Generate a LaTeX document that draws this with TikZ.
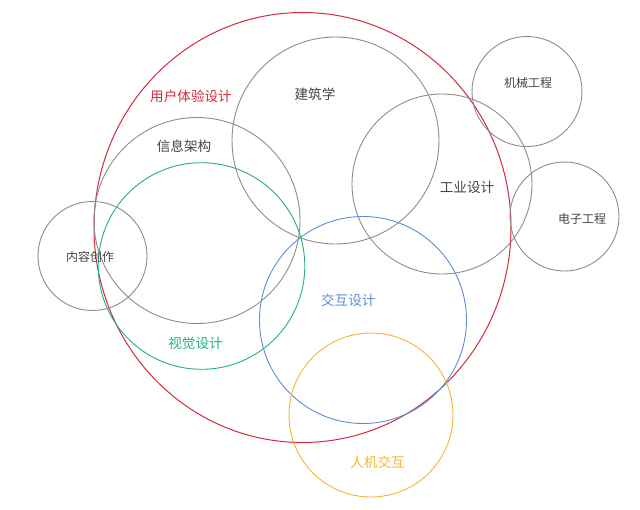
\documentclass[tikz,border=0pt]{standalone}
\usepackage{fontspec}
\setmainfont{Noto Sans CJK SC}
\definecolor{cred}{HTML}{D42A3C}
\definecolor{cgreen}{HTML}{22B07D}
\definecolor{cblue}{HTML}{5B8ED6}
\definecolor{corange}{HTML}{F5B530}
\definecolor{cgray}{HTML}{8C8C8C}
\definecolor{ctext}{HTML}{444444}
\tikzset{
  ring/.style={draw=cgray, line width=0.9pt},
  biglabel/.style={font=\fontsize{13.6}{14}\selectfont, inner sep=0pt},
  smalllabel/.style={font=\fontsize{12}{13}\selectfont, inner sep=0pt, text=ctext},
}
\begin{document}
\begin{tikzpicture}[x=1pt,y=-1pt]
\useasboundingbox (0,0) rectangle (640,509);
% circles
\draw[draw=cred, line width=1pt] (302.5,227.5) ellipse [x radius=208.5, y radius=215];
\draw[ring] (197,220.5) circle [radius=103];
\draw[draw=cgreen, line width=0.9pt] (201.5,266) circle [radius=103.3];
\draw[ring] (335.5,140.5) circle [radius=103.5];
\draw[ring] (442,184) circle [radius=90];
\draw[ring] (527,91.5) circle [radius=55];
\draw[ring] (564.5,216.5) circle [radius=54.5];
\draw[ring] (92.5,256) circle [radius=54.5];
\draw[draw=cblue, line width=0.9pt] (363,320) circle [radius=103.5];
\draw[draw=corange, line width=0.9pt] (371,415) circle [radius=82];
% labels
\node[biglabel, text=cred] (ux) at (191,96) {用户体验设计};
\node[biglabel, text=ctext] (jz) at (315,94) {建筑学};
\node[biglabel, text=ctext] (xx) at (184,146) {信息架构};
\node[biglabel, text=ctext] (gy) at (467,187) {工业设计};
\node[smalllabel] (jx) at (528,83) {机械工程};
\node[smalllabel] (dz) at (582,219) {电子工程};
\node[smalllabel] (nr) at (90,257) {内容创作};
\node[biglabel, text=cgreen] (sj) at (195.5,343) {视觉设计};
\node[biglabel, text=cblue] (jh) at (348.3,300) {交互设计};
\node[biglabel, text=corange] (rj) at (377.5,462) {人机交互};
\end{tikzpicture}
\end{document}
